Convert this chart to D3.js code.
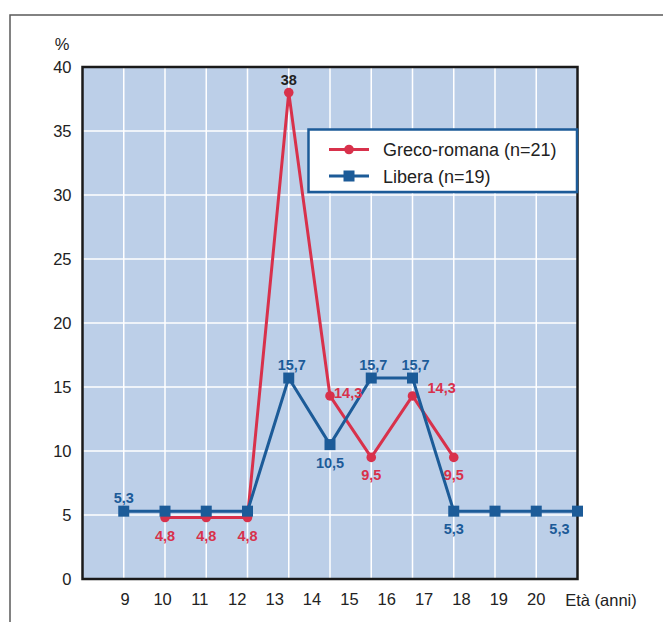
<!DOCTYPE html>
<html><head><meta charset="utf-8">
<script src="https://cdn.jsdelivr.net/npm/d3@7"></script>
<style>body{margin:0;background:#fff} svg{display:block}</style>
</head><body><svg id="c" width="663" height="622"></svg>
<script>
// ---- data ----
const ages = [9,10,11,12,13,14,15,16,17,18,19,20];
const ageLabels = ["9","10","11","12","13","14","15","16","17","18","19","20"];
const yTicks = [0,5,10,15,20,25,30,35,40];
const liberaAges = [9,10,11,12,13,14,15,16,17,18,19,20];
const libera = [5.3,5.3,5.3,5.3,15.7,10.5,15.7,15.7,5.3,5.3,5.3,5.3];
const grecoAges = [10,11,12,13,14,15,16,17];
const greco = [4.8,4.8,4.8,38,14.3,9.5,14.3,9.5];
const seriesNames = ["Greco-romana (n=21)","Libera (n=19)"];
const xTitle = "Età (anni)";
const yTitle = "%";

// ---- styles / label placement ----
const RED = "#d8314b", BLUE = "#1c5b98", BG = "#bccfe8";
const FONT = "Liberation Sans, Arial, sans-serif";
const grecoLabelSpec = [
  {i:0,pos:"below"},{i:1,pos:"below"},{i:2,pos:"below"},
  {i:3,pos:"above",color:"#222"},{i:4,pos:"right",dx:4,dy:2},
  {i:5,pos:"below"},{i:6,pos:"right",dx:15,dy:-3},{i:7,pos:"below"}
];
const liberaLabelSpec = [
  {i:0,pos:"above"},{i:4,pos:"above",dx:3},{i:5,pos:"below"},
  {i:6,pos:"above",dx:2},{i:7,pos:"above",dx:3},{i:8,pos:"below"},
  {i:11,pos:"below",anchor:"end",dx:-8}
];

const svg = d3.select("#c");
const L = 82.5, R = 577.5, T = 67, B = 579;

// outer frame
svg.append("rect").attr("x",10).attr("y",15).attr("width",700).attr("height",700)
  .attr("fill","none").attr("stroke","#5a5a5a").attr("stroke-width",1.5);

// scales: marks sit on the grid (age 8 at left edge), tick labels use their own spacing
const x = d3.scaleLinear().domain([8,20]).range([L,R]);
const xLab = d3.scalePoint().domain(ageLabels).range([124.7,535.7]);
const y = d3.scaleLinear().domain([0,40]).range([B,T]);

svg.append("rect").attr("x",L).attr("y",T).attr("width",R-L).attr("height",B-T).attr("fill",BG);

// grid
const g = svg.append("g");
g.selectAll("line.v").data(d3.range(9,20)).join("line")
  .attr("x1",d=>x(d)).attr("x2",d=>x(d)).attr("y1",T).attr("y2",B)
  .attr("stroke","#fff").attr("stroke-width",1.5);
g.selectAll("line.h").data(yTicks.filter(d=>d>0&&d<40)).join("line")
  .attr("x1",L).attr("x2",R).attr("y1",d=>y(d)).attr("y2",d=>y(d))
  .attr("stroke","#fff").attr("stroke-width",1.5);

svg.append("rect").attr("x",L).attr("y",T).attr("width",R-L).attr("height",B-T)
  .attr("fill","none").attr("stroke","#1a1a1a").attr("stroke-width",2.5);

// axes
const yAxis = svg.append("g").attr("transform",`translate(${L},0)`)
  .call(d3.axisLeft(y).tickValues(yTicks).tickSize(0).tickPadding(11));
yAxis.select(".domain").remove();
yAxis.selectAll("text").attr("font-family",FONT).attr("font-size",16.5).attr("fill","#222");

const xAxis = svg.append("g").attr("transform",`translate(0,${B})`)
  .call(d3.axisBottom(xLab).tickSize(0).tickPadding(14));
xAxis.select(".domain").remove();
xAxis.selectAll("text").attr("font-family",FONT).attr("font-size",16.5).attr("fill","#222");

svg.append("text").attr("x",601).attr("y",606).attr("text-anchor","middle")
  .attr("font-family",FONT).attr("font-size",16.5).attr("fill","#222").text(xTitle);
svg.append("text").attr("x",62).attr("y",50).attr("text-anchor","middle")
  .attr("font-family",FONT).attr("font-size",16.5).attr("fill","#222").text(yTitle);

// lines
const line = d3.line().x(d=>x(d[0])).y(d=>y(d[1]));
const gData = grecoAges.map((a,i)=>[a,greco[i]]);
const lData = liberaAges.map((a,i)=>[a,libera[i]]);

svg.append("path").datum(gData).attr("d",line).attr("fill","none")
  .attr("stroke",RED).attr("stroke-width",3).attr("stroke-linejoin","round");
svg.selectAll("circle.g").data(gData).join("circle")
  .attr("cx",d=>x(d[0])).attr("cy",d=>y(d[1])).attr("r",4.8).attr("fill",RED);

svg.append("path").datum(lData).attr("d",line).attr("fill","none")
  .attr("stroke",BLUE).attr("stroke-width",3).attr("stroke-linejoin","round");
const S = 11;
svg.selectAll("rect.l").data(lData).join("rect")
  .attr("x",d=>x(d[0])-S/2).attr("y",d=>y(d[1])-S/2).attr("width",S).attr("height",S).attr("fill",BLUE);

// value labels
const fmt = v => String(v).replace(".",",");
function addLabels(spec, data, color){
  spec.forEach(s=>{
    const d = data[s.i];
    const px = x(d[0]), py = y(d[1]);
    let tx = px, ty, anchor = s.anchor || "middle";
    if (s.pos==="above") ty = py - 8;
    else if (s.pos==="below") ty = py + 23;
    else { tx = px + (s.dx||0); ty = py + (s.dy||0); anchor = "start"; }
    if (s.pos!=="right" && s.dx) tx = px + s.dx;
    svg.append("text").attr("x",tx).attr("y",ty).attr("text-anchor",anchor)
      .attr("font-family",FONT).attr("font-weight","bold")
      .attr("font-size",14.5).attr("fill",s.color||color).text(fmt(d[1]));
  });
}
addLabels(grecoLabelSpec, gData, RED);
addLabels(liberaLabelSpec, lData, BLUE);

// legend
const lg = svg.append("g");
lg.append("rect").attr("x",308.5).attr("y",129.5).attr("width",268.5).attr("height",62.5)
  .attr("fill","#fff").attr("stroke",BLUE).attr("stroke-width",2.5);
const legendItems = [{name:seriesNames[0],color:RED,shape:"circle"},{name:seriesNames[1],color:BLUE,shape:"square"}];
legendItems.forEach((it,i)=>{
  const cy = 149.5 + i*26.5;
  lg.append("line").attr("x1",329).attr("x2",369).attr("y1",cy).attr("y2",cy)
    .attr("stroke",it.color).attr("stroke-width",3);
  if (it.shape==="circle") lg.append("circle").attr("cx",349).attr("cy",cy).attr("r",4.8).attr("fill",it.color);
  else lg.append("rect").attr("x",349-S/2).attr("y",cy-S/2).attr("width",S).attr("height",S).attr("fill",it.color);
  lg.append("text").attr("x",383).attr("y",cy+6.5).attr("font-family",FONT)
    .attr("font-size",18).attr("fill","#222").text(it.name);
});
</script></body></html>
